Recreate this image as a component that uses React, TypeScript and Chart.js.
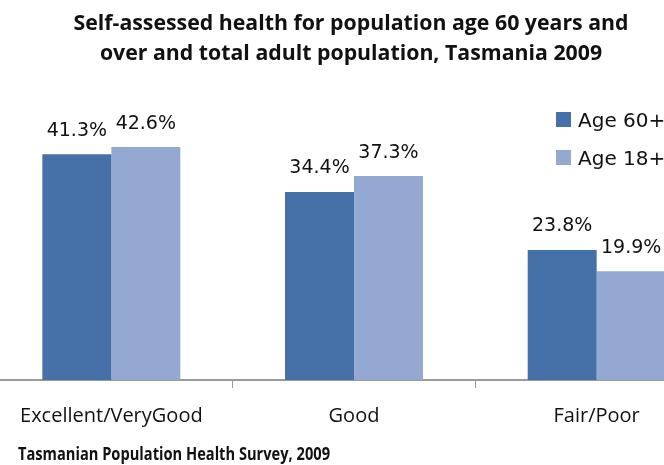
import React, { useEffect, useRef } from "react";
import { Chart, registerables } from "chart.js";

Chart.register(...registerables);

// Survey categories and series values (percent of respondents)
const categories = ["Excellent/VeryGood", "Good", "Fair/Poor"];
const age60Plus = [41.3, 34.4, 23.8];
const age18Plus = [42.6, 37.3, 19.9];
const seriesLabels = ["Age 60+", "Age 18+"];
const titleLines = [
  "Self-assessed health for population age 60 years and",
  "over and total adult population, Tasmania 2009",
];
const sourceNote = "Tasmanian Population Health Survey, 2009";

const DARK = "#4571A8";
const LIGHT = "#94A9D1";
const TEXT = "#111111";

// Percent labels above each bar
const valueLabels = {
  id: "valueLabels",
  afterDatasetsDraw(chart: any) {
    const ctx = chart.ctx;
    ctx.save();
    ctx.font = '19px "DejaVu Sans"';
    ctx.fillStyle = TEXT;
    ctx.textAlign = "center";
    ctx.textBaseline = "alphabetic";
    chart.data.datasets.forEach((ds: any, i: number) => {
      const meta = chart.getDatasetMeta(i);
      meta.data.forEach((bar: any, j: number) => {
        ctx.fillText(`${Number(ds.data[j]).toFixed(1)}%`, bar.x, bar.y - 18.5);
      });
    });
    ctx.restore();
  },
};

// Two-line bold heading, condensed to a narrow face
const heading = {
  id: "heading",
  afterDraw(chart: any) {
    const ctx = chart.ctx;
    ctx.save();
    ctx.font = 'bold 21px "Open Sans"';
    ctx.fillStyle = TEXT;
    ctx.textAlign = "center";
    ctx.textBaseline = "alphabetic";
    const natural = ctx.measureText(titleLines[0]).width;
    const sx = 555 / natural;
    ctx.translate(361, 0);
    ctx.scale(sx, 1);
    ctx.fillText(titleLines[0], 0, 30);
    ctx.fillText(titleLines[1], 0, 60);
    ctx.restore();
  },
};

// Legend stacked at the upper right
const sideLegend = {
  id: "sideLegend",
  afterDraw(chart: any) {
    const ctx = chart.ctx;
    ctx.save();
    ctx.font = '20px "DejaVu Sans"';
    ctx.textAlign = "left";
    ctx.textBaseline = "alphabetic";
    chart.data.datasets.forEach((ds: any, i: number) => {
      const top = 112 + i * 38;
      ctx.fillStyle = ds.backgroundColor;
      ctx.fillRect(566, top, 15, 15);
      ctx.fillStyle = TEXT;
      ctx.fillText(ds.label, 588, top + 15);
    });
    ctx.restore();
  },
};

// Source line under the axis
const sourceLine = {
  id: "sourceLine",
  afterDraw(chart: any) {
    const ctx = chart.ctx;
    ctx.save();
    ctx.font = 'bold 17px "Open Sans"';
    ctx.fillStyle = TEXT;
    ctx.textAlign = "left";
    ctx.textBaseline = "alphabetic";
    const natural = ctx.measureText(sourceNote).width;
    ctx.translate(28, 0);
    ctx.scale(312 / natural, 1);
    ctx.fillText(sourceNote, 0, 460);
    ctx.restore();
  },
};

export default function App() {
  const canvasRef = useRef<HTMLCanvasElement | null>(null);

  useEffect(() => {
    if (!canvasRef.current) return;
    const chart = new Chart(canvasRef.current, {
      type: "bar",
      data: {
        labels: categories,
        datasets: [
          {
            label: seriesLabels[0],
            data: age60Plus,
            backgroundColor: DARK,
            categoryPercentage: 0.5686,
            barPercentage: 1,
          },
          {
            label: seriesLabels[1],
            data: age18Plus,
            backgroundColor: LIGHT,
            categoryPercentage: 0.5686,
            barPercentage: 1,
          },
        ],
      },
      options: {
        responsive: false,
        animation: false,
        layout: { padding: { top: 134, left: 0, right: 0, bottom: 0 } },
        plugins: {
          legend: { display: false },
          title: { display: false },
          tooltip: { enabled: false },
        },
        scales: {
          x: {
            offset: true,
            afterFit: (scale: any) => {
              scale.height = 85;
            },
            grid: {
              offset: true,
              drawOnChartArea: false,
              drawTicks: true,
              tickLength: 8,
              color: "#9a9a9a",
              lineWidth: 1,
            },
            border: { display: true, color: "#9a9a9a", width: 2 },
            ticks: {
              font: { family: '"Open Sans"', size: 20 },
              color: TEXT,
              padding: 16,
              maxRotation: 0,
              autoSkip: false,
            },
          },
          y: {
            display: false,
            min: 0,
            max: 45,
          },
        },
      },
      plugins: [valueLabels, heading, sideLegend, sourceLine],
    });
    return () => chart.destroy();
  }, []);

  return (
    <div
      style={{
        position: "fixed",
        left: 0,
        top: 0,
        width: 664,
        height: 465,
        overflow: "hidden",
        background: "#ffffff",
      }}
    >
      <canvas
        ref={canvasRef}
        width={728}
        height={465}
        style={{ position: "absolute", left: -10, top: 0 }}
      />
    </div>
  );
}
